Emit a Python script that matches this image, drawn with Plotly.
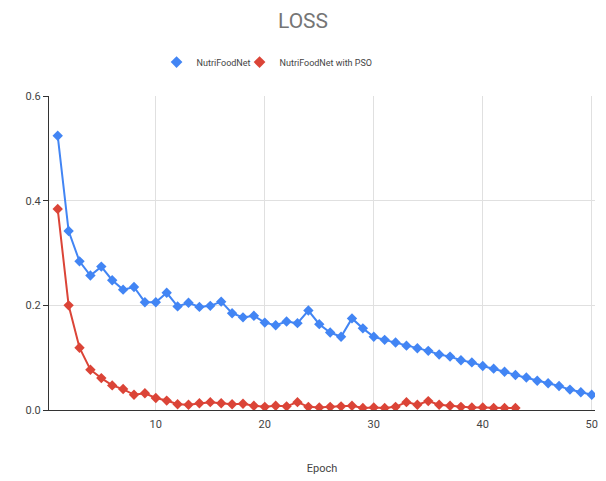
import plotly.graph_objects as go

epochs_a = list(range(1, 51))
loss_a = [0.524, 0.342, 0.284, 0.257, 0.274, 0.248, 0.230, 0.235, 0.206, 0.206,
          0.224, 0.198, 0.205, 0.197, 0.199, 0.207, 0.185, 0.177, 0.180, 0.167,
          0.162, 0.169, 0.166, 0.190, 0.164, 0.148, 0.140, 0.175, 0.156, 0.140,
          0.134, 0.129, 0.123, 0.118, 0.113, 0.106, 0.102, 0.095, 0.091, 0.084,
          0.079, 0.073, 0.067, 0.062, 0.056, 0.051, 0.046, 0.039, 0.034, 0.029]

epochs_b = list(range(1, 44))
loss_b = [0.384, 0.200, 0.119, 0.077, 0.061, 0.047, 0.040, 0.029, 0.032, 0.023,
          0.018, 0.011, 0.010, 0.013, 0.015, 0.013, 0.011, 0.012, 0.008, 0.006,
          0.008, 0.007, 0.015, 0.006, 0.005, 0.006, 0.007, 0.008, 0.004, 0.005,
          0.004, 0.006, 0.015, 0.010, 0.017, 0.010, 0.008, 0.006, 0.005, 0.005,
          0.004, 0.004, 0.004]

names = ["NutriFoodNet", "NutriFoodNet with PSO"]
colors = ["#4285F4", "#DB4437"]
x_ticks = [10, 20, 30, 40, 50]
y_ticks = [0.0, 0.2, 0.4, 0.6]

fig = go.Figure()
for xs, ys, nm, c in [(epochs_a, loss_a, names[0], colors[0]),
                      (epochs_b, loss_b, names[1], colors[1])]:
    fig.add_trace(go.Scatter(
        x=xs, y=ys, name=nm, mode="lines+markers", showlegend=False,
        line=dict(color=c, width=2),
        marker=dict(symbol="diamond", size=8, color=c),
    ))
# marker-only legend entries
for nm, c in zip(names, colors):
    fig.add_trace(go.Scatter(
        x=[None], y=[None], name=nm, mode="markers",
        marker=dict(symbol="diamond", size=9, color=c),
    ))
# invisible spacer entries so the last legend label is not clipped
for _ in range(2):
    fig.add_trace(go.Scatter(
        x=[None], y=[None], name=" ", mode="markers", hoverinfo="skip",
        marker=dict(symbol="diamond", size=9, color="rgba(0,0,0,0)"),
    ))

fig.update_layout(
    width=606, height=481,
    margin=dict(l=49, r=8, t=96, b=70),
    paper_bgcolor="white", plot_bgcolor="white",
    font=dict(family="Roboto, Arial, sans-serif", color="#444444", size=11),
    title=dict(text="LOSS", x=0.5, xanchor="center", y=0.958, yanchor="middle",
               font=dict(size=21, color="#757575")),
    legend=dict(orientation="h", x=0.197, xanchor="left", y=1.108, yanchor="middle",
                font=dict(size=9, color="#444444"), itemwidth=30,
                entrywidth=38, entrywidthmode="pixels",
                bgcolor="rgba(0,0,0,0)"),
    showlegend=True,
)
fig.update_xaxes(
    range=[0.2, 50.3], tickvals=x_ticks, ticktext=[str(v) for v in x_ticks],
    showgrid=True, gridcolor="#e0e0e0", gridwidth=1,
    showline=True, linecolor="#333333", linewidth=1,
    ticks="", zeroline=False, ticklabelstandoff=4,
    title=dict(text="Epoch", font=dict(size=11, color="#444444"), standoff=34),
    tickfont=dict(size=11, color="#444444"),
)
fig.update_yaxes(
    range=[0, 0.6], tickvals=y_ticks, ticktext=[f"{v:.1f}" for v in y_ticks],
    showgrid=True, gridcolor="#e0e0e0", gridwidth=1,
    showline=True, linecolor="#333333", linewidth=1,
    ticks="outside", ticklen=5, tickcolor="#333333", zeroline=False,
    tickfont=dict(size=11, color="#444444"),
)

fig.write_html("out.html")
